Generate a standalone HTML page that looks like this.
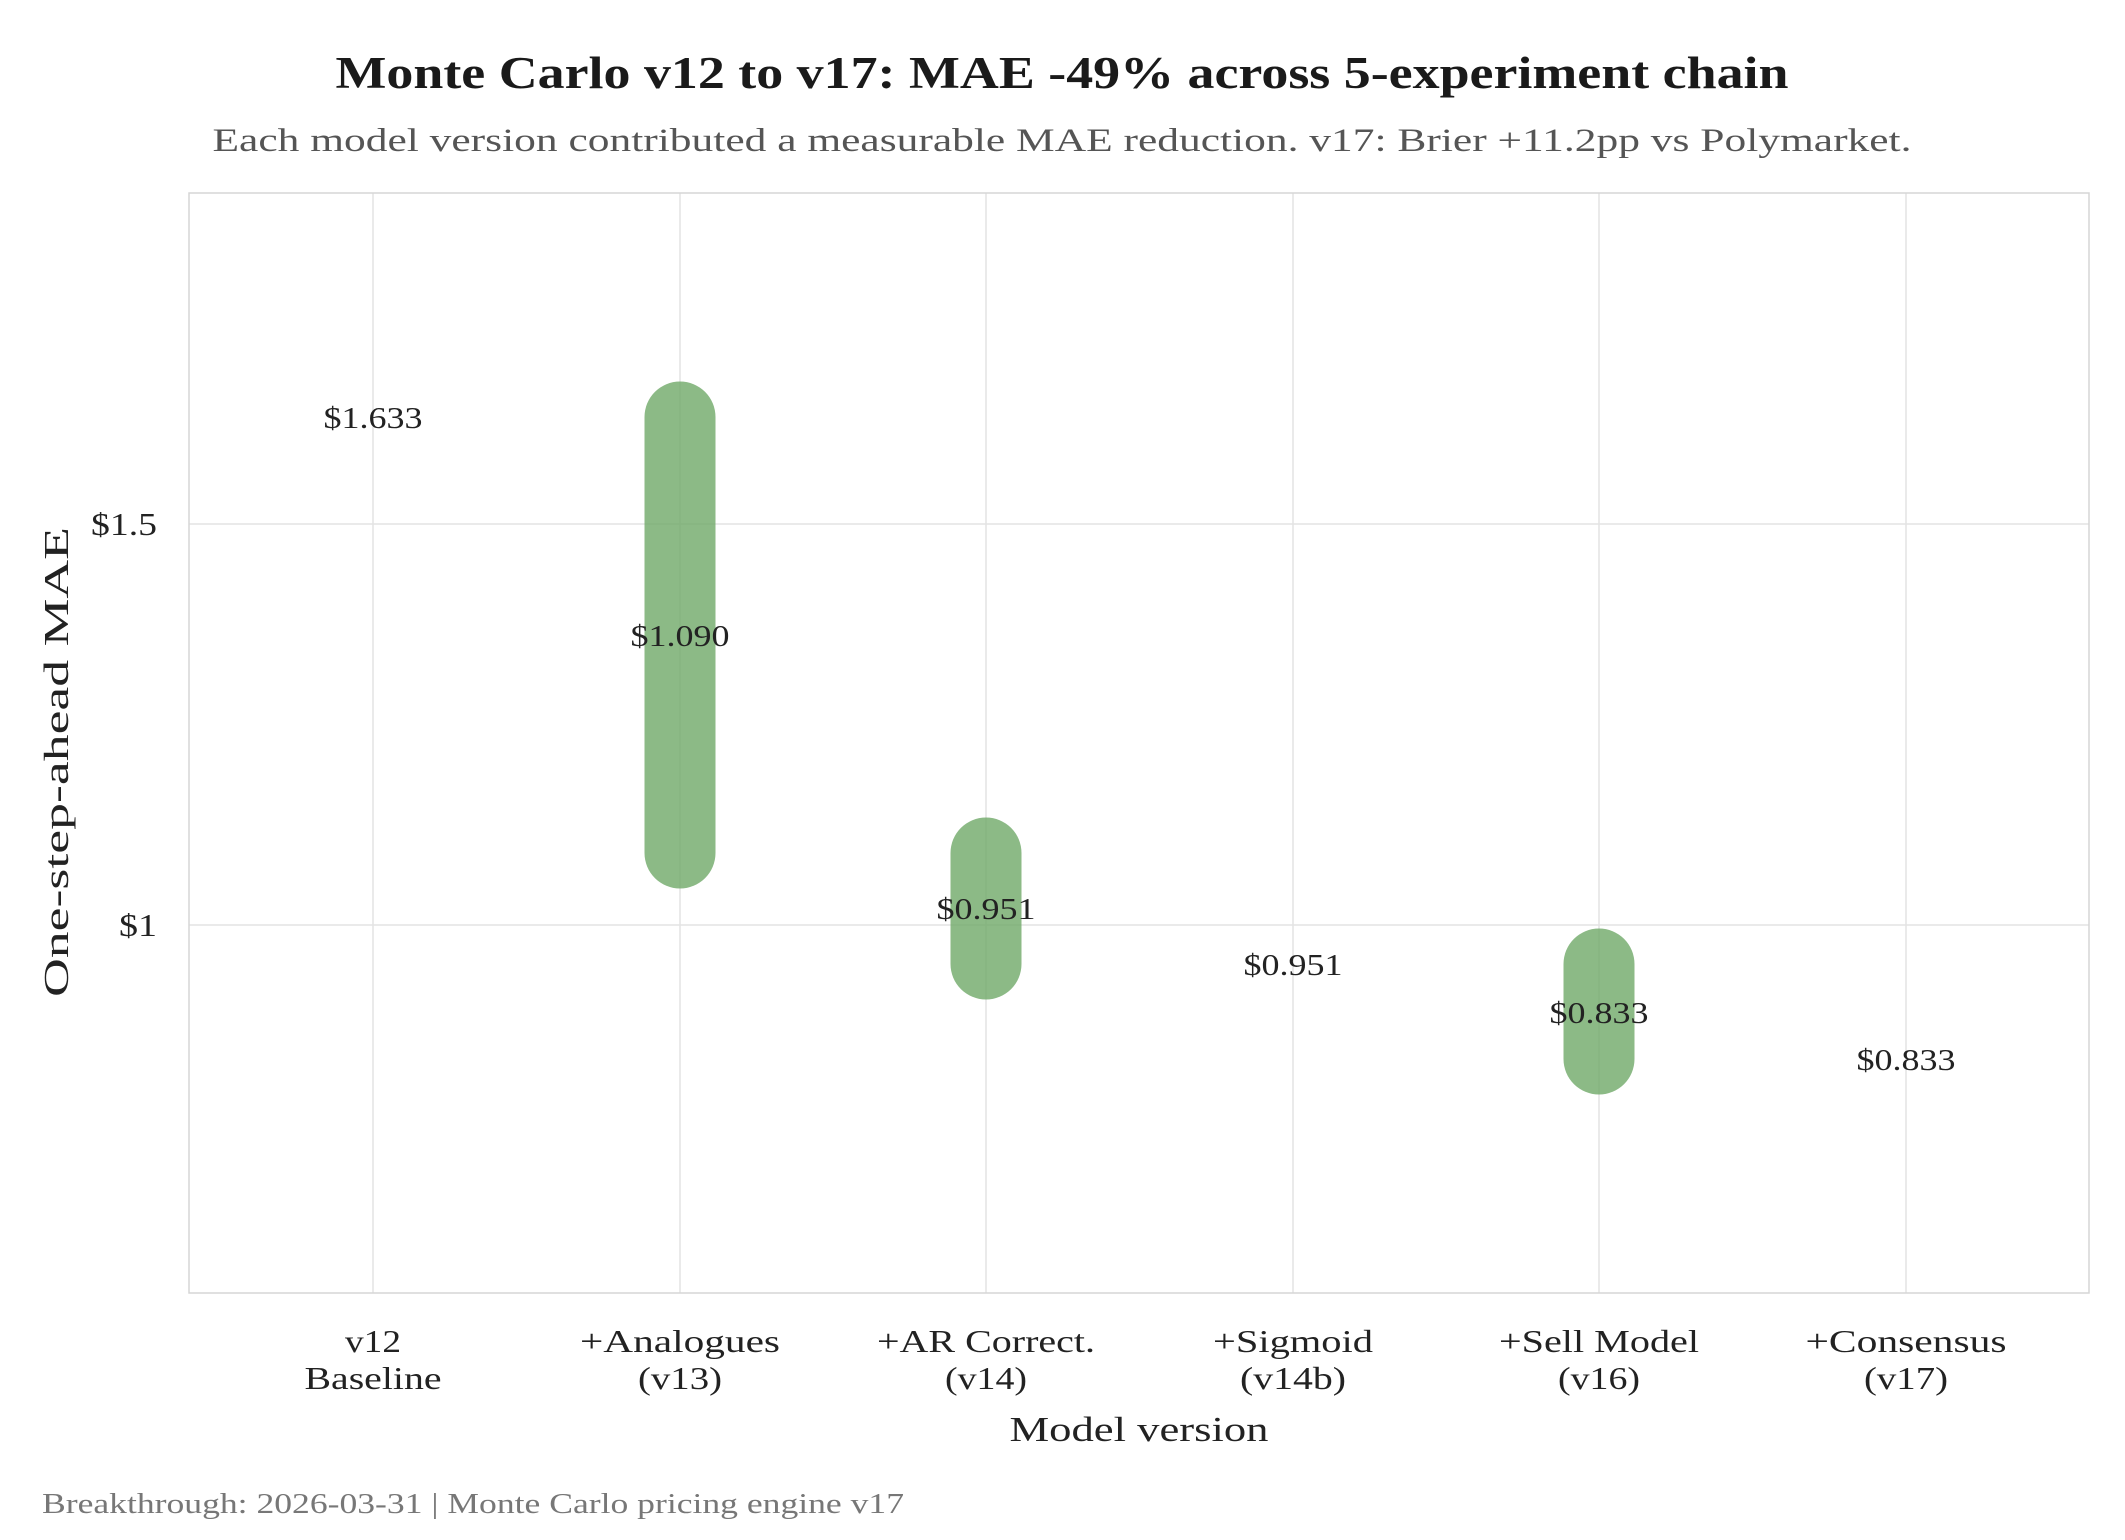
<!DOCTYPE html>
<html><head><meta charset="utf-8"><style>
html,body{margin:0;padding:0;background:#fff;}
svg text{font-family:"Liberation Serif",serif;}
</style></head><body>
<svg width="2125" height="1535" viewBox="0 0 2125 1535" xmlns="http://www.w3.org/2000/svg">
<rect width="2125" height="1535" fill="#fff"/>
<g stroke="#e3e3e3" stroke-width="1.5">
<line x1="189" x2="2089" y1="524" y2="524"/>
<line x1="189" x2="2089" y1="925" y2="925"/>
<line x1="373" x2="373" y1="193" y2="1293"/>
<line x1="680" x2="680" y1="193" y2="1293"/>
<line x1="986" x2="986" y1="193" y2="1293"/>
<line x1="1293" x2="1293" y1="193" y2="1293"/>
<line x1="1599" x2="1599" y1="193" y2="1293"/>
<line x1="1906" x2="1906" y1="193" y2="1293"/>
</g>
<rect x="189" y="193" width="1900" height="1100" fill="none" stroke="#d6d6d6" stroke-width="1.5"/>
<g stroke="#6fa968" stroke-opacity="0.8" stroke-width="71" stroke-linecap="round">
<line x1="680" x2="680" y1="417" y2="853"/>
<line x1="986" x2="986" y1="853" y2="964"/>
<line x1="1599" x2="1599" y1="964" y2="1059"/>
</g>
<g font-size="31" fill="#222" text-anchor="middle" lengthAdjust="spacingAndGlyphs">
<text x="373" y="428" textLength="99" lengthAdjust="spacingAndGlyphs">$1.633</text>
<text x="680" y="646" textLength="99" lengthAdjust="spacingAndGlyphs">$1.090</text>
<text x="986" y="919" textLength="99" lengthAdjust="spacingAndGlyphs">$0.951</text>
<text x="1293" y="975" textLength="99" lengthAdjust="spacingAndGlyphs">$0.951</text>
<text x="1599" y="1023" textLength="99" lengthAdjust="spacingAndGlyphs">$0.833</text>
<text x="1906" y="1070" textLength="99" lengthAdjust="spacingAndGlyphs">$0.833</text>
</g>
<g font-size="32" fill="#222" text-anchor="end">
<text x="157" y="535" textLength="66" lengthAdjust="spacingAndGlyphs">$1.5</text>
<text x="157" y="936" textLength="38" lengthAdjust="spacingAndGlyphs">$1</text>
</g>
<g font-size="32" fill="#222" text-anchor="middle">
<text x="373" y="1352" textLength="56" lengthAdjust="spacingAndGlyphs">v12</text><text x="373" y="1389" textLength="137" lengthAdjust="spacingAndGlyphs">Baseline</text>
<text x="680" y="1352" textLength="200" lengthAdjust="spacingAndGlyphs">+Analogues</text><text x="680" y="1389" textLength="84" lengthAdjust="spacingAndGlyphs">(v13)</text>
<text x="986" y="1352" textLength="218" lengthAdjust="spacingAndGlyphs">+AR Correct.</text><text x="986" y="1389" textLength="82" lengthAdjust="spacingAndGlyphs">(v14)</text>
<text x="1293" y="1352" textLength="160" lengthAdjust="spacingAndGlyphs">+Sigmoid</text><text x="1293" y="1389" textLength="106" lengthAdjust="spacingAndGlyphs">(v14b)</text>
<text x="1599" y="1352" textLength="200" lengthAdjust="spacingAndGlyphs">+Sell Model</text><text x="1599" y="1389" textLength="82" lengthAdjust="spacingAndGlyphs">(v16)</text>
<text x="1906" y="1352" textLength="201" lengthAdjust="spacingAndGlyphs">+Consensus</text><text x="1906" y="1389" textLength="84" lengthAdjust="spacingAndGlyphs">(v17)</text>
</g>
<text x="1139" y="1441" font-size="35" fill="#222" text-anchor="middle" textLength="259" lengthAdjust="spacingAndGlyphs">Model version</text>
<text transform="translate(68,762) rotate(-90)" font-size="35" fill="#222" text-anchor="middle" textLength="470" lengthAdjust="spacingAndGlyphs">One-step-ahead MAE</text>
<text x="1062" y="88" font-size="45" font-weight="bold" fill="#1a1a1a" text-anchor="middle" textLength="1453" lengthAdjust="spacingAndGlyphs">Monte Carlo v12 to v17: MAE -49% across 5-experiment chain</text>
<text x="1062" y="151" font-size="33" fill="#555" text-anchor="middle" textLength="1699" lengthAdjust="spacingAndGlyphs">Each model version contributed a measurable MAE reduction. v17: Brier +11.2pp vs Polymarket.</text>
<text x="42" y="1513" font-size="28" fill="#777" textLength="862" lengthAdjust="spacingAndGlyphs">Breakthrough: 2026-03-31 | Monte Carlo pricing engine v17</text>
</svg>
</body></html>
